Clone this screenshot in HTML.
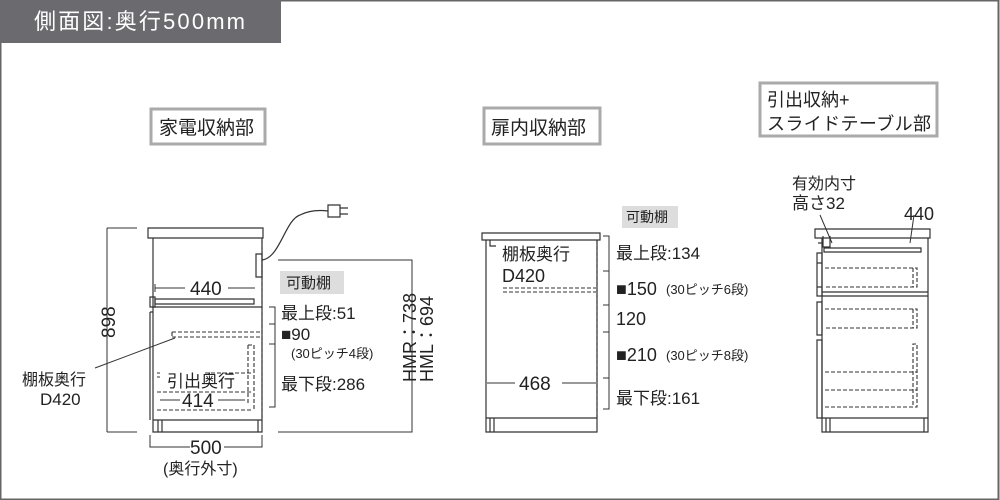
<!DOCTYPE html>
<html><head><meta charset="utf-8"><style>
html,body{margin:0;padding:0;background:#fff}
svg{display:block}
text{font-family:"Liberation Sans","Noto Sans CJK JP",sans-serif;fill:#222}
</style></head><body>
<svg width="1000" height="500" viewBox="0 0 1000 500" xmlns="http://www.w3.org/2000/svg">
<rect x="0.5" y="0.5" width="998" height="499" fill="none" stroke="#666" stroke-width="2"/>
<rect x="0" y="0" width="281" height="43" fill="#6b6a6f"/>
<text x="34" y="29" font-size="22" textLength="211" style="fill:#fff">側面図:奥行500mm</text>

<rect x="151" y="109" width="114" height="35" fill="#fff" stroke="#aaa" stroke-width="3"/>
<text x="159" y="134" font-size="19">家電収納部</text>
<rect x="484" y="108" width="116" height="36" fill="#fff" stroke="#aaa" stroke-width="3"/>
<text x="491" y="134" font-size="19">扉内収納部</text>
<rect x="760" y="83" width="177" height="53" fill="#fff" stroke="#aaa" stroke-width="3"/>
<text x="767" y="106" font-size="18">引出収納+</text>
<text x="767" y="130" font-size="18" textLength="164">スライドテーブル部</text>

<g fill="none" stroke="#333" stroke-width="1.2">
<path d="M148 228 H263 V238 H148 Z"/>
<path d="M153 238 V432 H262 V238"/>
<path d="M153 420 H262 M158 420 V432 M162 420 V432 M258 420 V432"/>
<path d="M150 297 H155 V307 H150 Z"/>
<path d="M155 299 H254 V304 H155 Z"/>
<path d="M153 307 H262"/>
<path d="M150 312 V420 M153 312 H150"/>
<path d="M256 254 H262 V277 H256 Z"/>
<path d="M262 260 C 280 258, 285 220, 300 215 C 310 210, 320 210, 328 211"/>
<path d="M328 205 H340 V217 H328 Z M340 208 H348 M340 214 H348"/>
<path d="M107 228 V432 M107 228 H137 M107 432 H137" stroke-width="1"/>
<path d="M155 288 H185 M228 288 H255 M155 284 V292" stroke-width="1"/>
<path d="M150 435 V447 H190 M224 447 H262 V435" stroke-width="1"/>
<path d="M269 307 H275 V407 H269 M275 324 H269 M275 344 H269" stroke-width="1"/>
<path d="M278 260 H412 V432 H278" stroke-width="1"/>
<path d="M95 368 L175 338" stroke-width="1"/>
<g stroke-dasharray="4 2" stroke-width="1.1">
<path d="M172 332 H262 M172 337 H262 M172 332 V337"/>
<path d="M157 373 H160 M205 373 H253 M157 377 H160 M157 392 H253 M157 410 H253"/>
<path d="M248 345 H254 V410 M248 345 V405"/>
<path d="M262 240 V420"/>
</g>
<path d="M160 400 H180 M218 400 H245" stroke-width="1"/>

<path d="M482 233 H600 V240 H482 Z"/>
<path d="M486 240 V432 H597 V240"/>
<path d="M486 418 H597 M490 418 V432 M494 418 V432"/>
<path d="M490 240 V246 H496"/>
<path d="M487 383 H515 M562 383 H596" stroke-width="1"/>
<path d="M603 236 H609 V409 H603 M609 271 H603 M609 305 H603 M609 332 H603 M609 378 H603" stroke-width="1"/>
<g stroke-dasharray="4 2" stroke-width="1.1">
<path d="M503 288 H596 M503 292 H596"/>
<path d="M597 240 V418"/>
</g>

<path d="M815 229 H930 V238 H815 Z"/>
<path d="M822 238 V432 H928 V238"/>
<path d="M822 418 H928 M826 418 V432 M830 418 V432 M924 418 V432"/>
<path d="M824 248 H921 V252 H824 Z"/>
<path d="M822 292 H928 M822 296 H928"/>
<path d="M818 243 H822 M817 253 H822 V287 H817 Z M817 263 H822 V296 H817 Z M817 302 H822 V335 H817 Z M817 340 H822 V418 H817 Z"/>
<path d="M823 236 V247 H830 V236"/>
<path d="M820 215 L832 243 M914 215 L910 243" stroke-width="1"/>
<g stroke-dasharray="4 2" stroke-width="1.1">
<path d="M825 268 H917 V287 H825 M913 268 V287"/>
<path d="M825 309 H917 V328 H825 M913 309 V328"/>
<path d="M825 372 H917 M825 390 H917 M825 407 H917 V344 H913 V407"/>
</g>
</g>

<text x="190" y="295" font-size="19">440</text>
<text x="167" y="387" font-size="17">引出奥行</text>
<text x="182" y="407" font-size="19">414</text>
<text x="190" y="454" font-size="19">500</text>
<text x="163" y="474" font-size="16">(奥行外寸)</text>
<text transform="translate(115,338) rotate(-90)" font-size="19">898</text>
<text x="22" y="385" font-size="16">棚板奥行</text>
<text x="40" y="405" font-size="17">D420</text>
<rect x="280" y="271" width="64" height="23" fill="#ddd"/>
<text x="286" y="288" font-size="15">可動棚</text>
<text x="281" y="319" font-size="17">最上段:51</text>
<text x="281" y="340" font-size="17">■90</text>
<text x="291" y="358" font-size="13">(30ピッチ4段)</text>
<text x="281" y="390" font-size="17">最下段:286</text>
<text transform="translate(416,382) rotate(-90)" font-size="18">HMR：738</text>
<text transform="translate(433,382) rotate(-90)" font-size="18">HML：694</text>

<rect x="622" y="206" width="56" height="22" fill="#ddd"/>
<text x="626" y="222" font-size="14">可動棚</text>
<text x="502" y="260" font-size="17">棚板奥行</text>
<text x="502" y="282" font-size="18">D420</text>
<text x="519" y="390" font-size="19">468</text>
<text x="616" y="259" font-size="17">最上段:134</text>
<text x="616" y="295" font-size="18">■150</text>
<text x="666" y="294" font-size="13">(30ピッチ6段)</text>
<text x="616" y="325" font-size="18">120</text>
<text x="616" y="361" font-size="18">■210</text>
<text x="666" y="360" font-size="13">(30ピッチ8段)</text>
<text x="616" y="404" font-size="17">最下段:161</text>

<text x="792" y="189" font-size="16">有効内寸</text>
<text x="792" y="209" font-size="17">高さ32</text>
<text x="904" y="220" font-size="18">440</text>
</svg>
</body></html>
